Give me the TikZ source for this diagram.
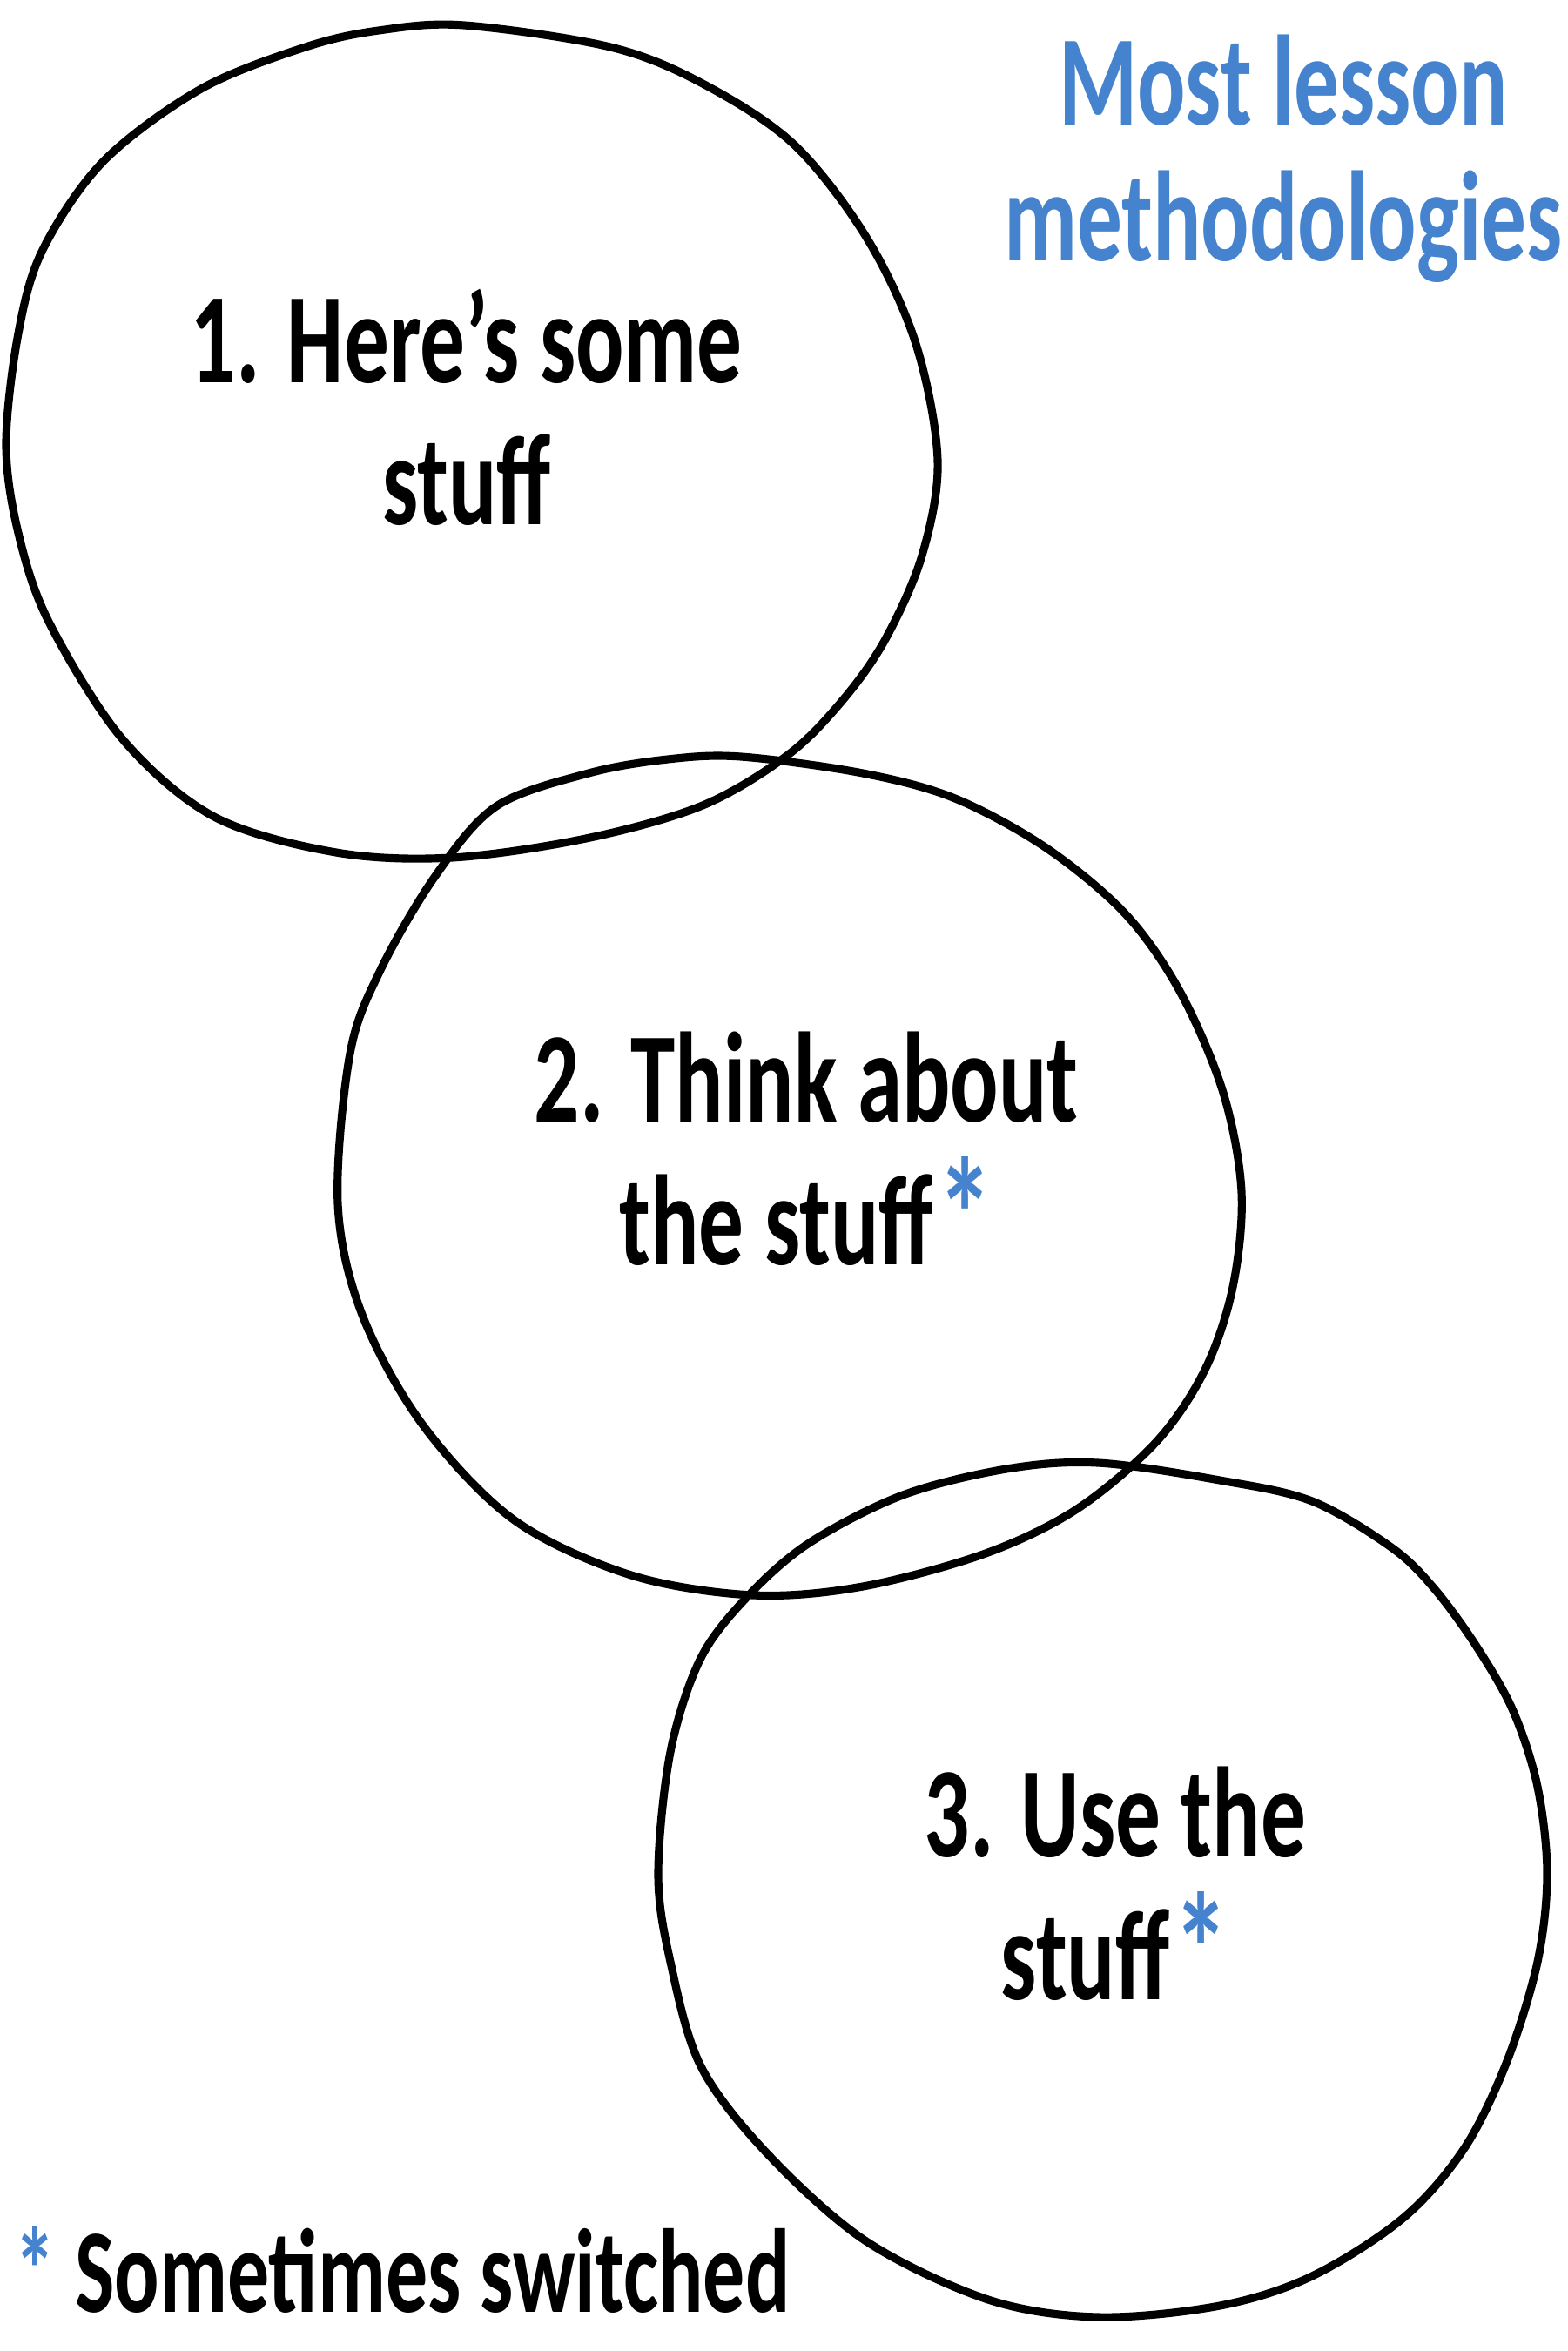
\documentclass[tikz,border=0pt]{standalone}
\usepackage{fontspec}
\setmainfont{Carlito}
\newfontfamily\handfont[FakeStretch=0.70]{Carlito}
\definecolor{noteblue}{RGB}{69,131,206}
\tikzstyle{blob}=[draw=black,line width=2.6pt,line join=round]
\tikzstyle{steptext}=[font=\handfont\bfseries\fontsize{42}{46.4}\selectfont,align=center,anchor=base,inner sep=0pt]
\tikzstyle{bluetext}=[steptext,text=noteblue,font=\handfont\bfseries\fontsize{42}{44.4}\selectfont]
\tikzstyle{notetext}=[steptext,anchor=base west,font=\handfont\bfseries\fontsize{39}{40}\selectfont]
\newcommand{\tikzpicscale}{1}
\newcommand{\starmark}{\kern0.03em\textcolor{noteblue}{\raisebox{-0.06em}{\scalebox{1.25}{*}}}}

\begin{document}
\begin{tikzpicture}[x=\tikzpicscale cm,y=-\tikzpicscale cm]
    \useasboundingbox (0,0) rectangle (18,27);
%    first loop, top left
    \draw[blob] plot[smooth cycle,tension=0.55] coordinates {(5.33,0.29) (7.01,0.54) (8.07,0.96) (9.12,1.66) (9.96,2.74) (10.52,3.95) (10.77,5.29) (10.59,6.38) (10.17,7.34) (9.68,8.04) (9.05,8.67) (8.07,9.25) (6.73,9.63) (5.19,9.85) (3.86,9.79) (2.46,9.38) (1.40,8.48) (0.56,7.14) (0.21,6.12) (0.07,5.10) (0.21,3.83) (0.49,2.87) (1.19,1.85) (2.31,1.02) (3.51,0.54) (4.35,0.35)};
%    second loop
    \draw[blob] plot[smooth cycle,tension=0.55] coordinates {(8.51,8.69) (9.91,8.88) (10.97,9.17) (12.02,9.74) (12.93,10.50) (13.56,11.40) (14.05,12.55) (14.26,13.69) (14.16,14.78) (13.84,15.73) (13.28,16.56) (12.37,17.33) (11.32,17.84) (9.91,18.22) (8.65,18.32) (7.25,18.09) (5.91,17.46) (4.86,16.37) (4.16,15.10) (3.88,13.82) (4.02,12.10) (4.37,11.14) (5.00,10.06) (5.70,9.26) (6.76,8.88) (7.67,8.72)};
%    third loop
    \draw[blob] plot[smooth cycle,tension=0.55] coordinates {(12.61,16.80) (14.01,17.00) (15.07,17.24) (15.98,17.77) (16.47,18.24) (16.96,18.91) (17.38,19.65) (17.66,20.52) (17.77,21.52) (17.66,22.53) (17.31,23.67) (16.82,24.67) (16.12,25.47) (15.07,26.14) (14.01,26.48) (12.61,26.61) (11.35,26.41) (9.95,25.74) (8.82,24.74) (8.05,23.73) (7.70,22.53) (7.56,21.52) (7.70,20.12) (8.05,19.04) (8.61,18.31) (9.31,17.71) (10.37,17.17) (11.56,16.87)};
%    base anchor sits on the last line
    \node[steptext] (step1) at (5.36,6.03) {1. Here’s some\\stuff};
    \node[steptext] (step2) at (9.26,14.52) {2. Think about\\the stuff\starmark};
    \node[steptext] (step3) at (12.81,22.96) {3. Use the\\stuff\starmark};
    \node[bluetext] (title) at (14.74,3.00) {Most lesson\\methodologies};
    \node[notetext] (note) at (0.16,26.55) {\textcolor{noteblue}{*} Sometimes switched};
\end{tikzpicture}
\end{document}
